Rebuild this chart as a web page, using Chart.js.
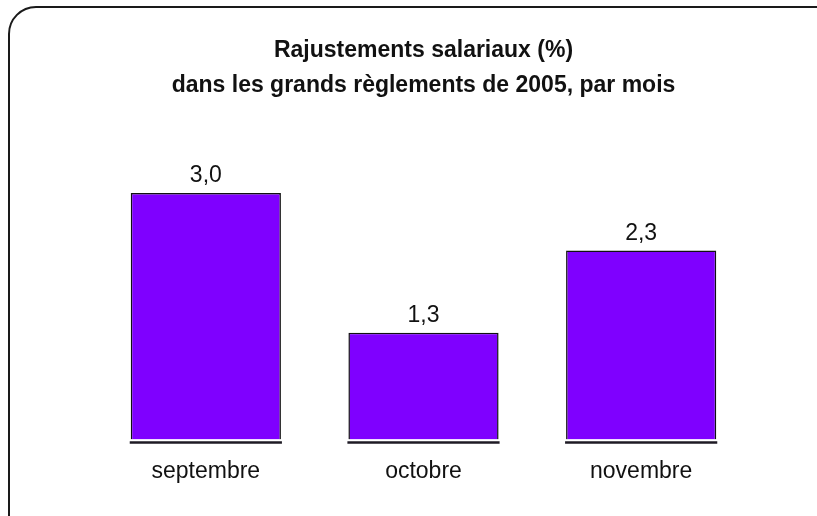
<!DOCTYPE html>
<html>
<head>
<meta charset="utf-8">
<script src="https://cdn.jsdelivr.net/npm/chart.js@4.4.0/dist/chart.umd.min.js"></script>
<style>
  html, body { margin: 0; padding: 0; background: #fff; overflow: hidden; }
  #wrap { position: relative; width: 817px; height: 516px; }
  #frame {
    position: absolute; left: 8px; top: 6px; width: 840px; height: 540px;
    border: 2px solid #1a1a1a; border-radius: 28px; box-sizing: border-box;
  }
  canvas { position: absolute; left: 0; top: 0; }
</style>
</head>
<body>
<div id="wrap">
  <div id="frame"></div>
  <canvas id="chart" width="817" height="516"></canvas>
</div>
<script>
// data
var titleLines = ["Rajustements salariaux (%)", "dans les grands règlements de 2005, par mois"];
var months = ["septembre", "octobre", "novembre"];
var adjustments = [3.0, 1.3, 2.3];

var fontFamily = "'Liberation Sans', Arial, sans-serif";

// value above each bar, french decimal comma
var valueLabels = {
  id: "valueLabels",
  afterDatasetsDraw(chart) {
    var ctx = chart.ctx;
    var meta = chart.getDatasetMeta(0);
    ctx.save();
    ctx.font = "23px " + fontFamily;
    ctx.fillStyle = "#111";
    ctx.textAlign = "center";
    ctx.textBaseline = "alphabetic";
    meta.data.forEach(function (bar, i) {
      var txt = adjustments[i].toFixed(1).replace(".", ",");
      ctx.fillText(txt, bar.x, bar.y - 11);
    });
    ctx.restore();
  }
};

// dark rule under each bar, with a small white gap
var barBase = {
  id: "barBase",
  afterDatasetsDraw(chart) {
    var ctx = chart.ctx;
    var meta = chart.getDatasetMeta(0);
    ctx.save();
    ctx.strokeStyle = "#1e1a24";
    ctx.lineWidth = 2.5;
    meta.data.forEach(function (bar) {
      var y = bar.base + 3;
      ctx.beginPath();
      ctx.moveTo(bar.x - bar.width / 2 - 1, y);
      ctx.lineTo(bar.x + bar.width / 2 + 1, y);
      ctx.stroke();
    });
    ctx.restore();
  }
};

new Chart(document.getElementById("chart"), {
  type: "bar",
  data: {
    labels: months,
    datasets: [{
      data: adjustments,
      backgroundColor: "#7f00ff",
      borderColor: "#111",
      borderWidth: 1.5,
      categoryPercentage: 0.69,
      barPercentage: 1.0
    }]
  },
  options: {
    responsive: false,
    animation: false,
    layout: { padding: { top: 0, left: 97, right: 67, bottom: 13 } },
    plugins: {
      legend: { display: false },
      tooltip: { enabled: false },
      title: {
        display: true,
        text: titleLines,
        color: "#111",
        font: { family: fontFamily, size: 23, weight: "bold", lineHeight: "35px" },
        padding: { top: 33, bottom: 49 }
      }
    },
    scales: {
      x: {
        grid: { display: false, drawTicks: false },
        border: { display: false },
        ticks: {
          color: "#111",
          padding: 18,
          font: { family: fontFamily, size: 23 }
        }
      },
      y: {
        display: false,
        min: 0,
        max: 3.5
      }
    }
  },
  plugins: [valueLabels, barBase]
});
</script>
</body>
</html>
